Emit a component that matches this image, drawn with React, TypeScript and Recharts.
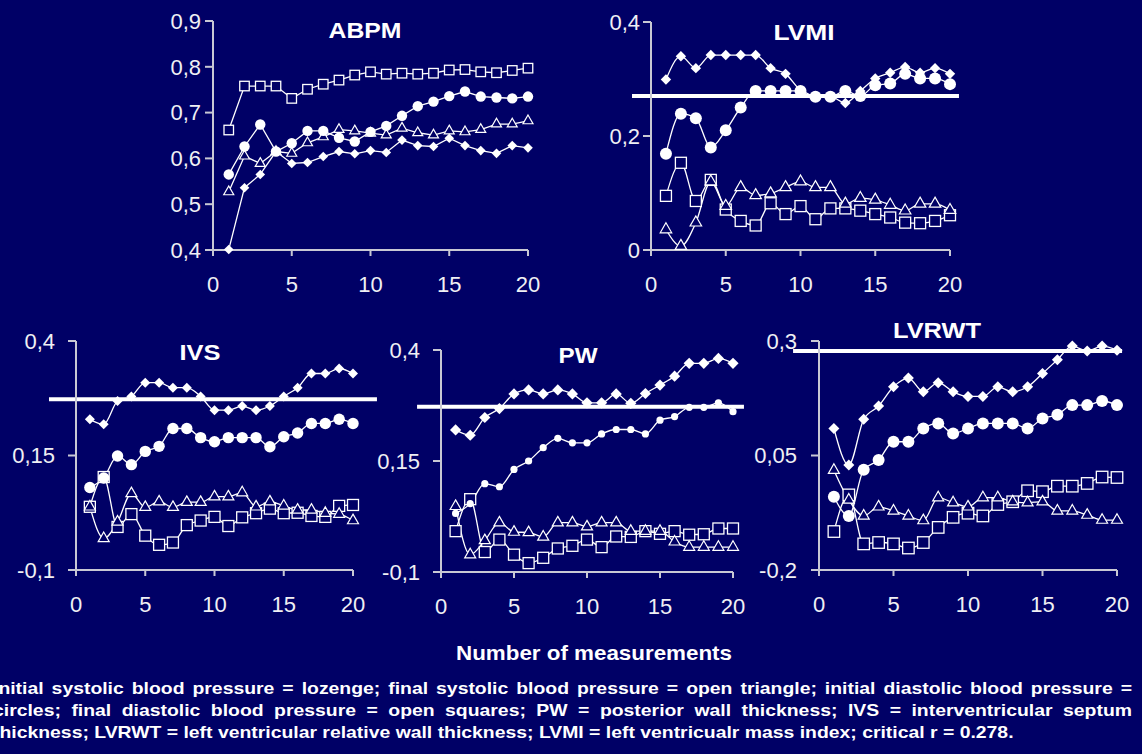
import React from "react";
import { LineChart, Line, XAxis, YAxis, ReferenceLine } from "recharts";

const BG = "#000066";
const FONT = "'Liberation Sans', Arial, sans-serif";

const MEASUREMENTS = [1, 2, 3, 4, 5, 6, 7, 8, 9, 10, 11, 12, 13, 14, 15, 16, 17, 18, 19, 20];
const X_TICKS = [0, 5, 10, 15, 20];

// ABPM
const ABPM_LOZENGE = [0.401, 0.536, 0.565, 0.615, 0.589, 0.591, 0.604, 0.615, 0.61, 0.617, 0.613, 0.64, 0.628, 0.626, 0.644, 0.628, 0.617, 0.611, 0.628, 0.623];
const ABPM_TRIANGLE = [0.527, 0.605, 0.589, 0.615, 0.611, 0.634, 0.647, 0.663, 0.66, 0.655, 0.651, 0.666, 0.656, 0.651, 0.66, 0.658, 0.663, 0.675, 0.675, 0.682];
const ABPM_CIRCLE = [0.565, 0.626, 0.674, 0.615, 0.633, 0.66, 0.66, 0.645, 0.637, 0.658, 0.671, 0.693, 0.714, 0.724, 0.736, 0.746, 0.735, 0.733, 0.731, 0.735];
const ABPM_SQUARE = [0.662, 0.758, 0.758, 0.758, 0.731, 0.751, 0.762, 0.771, 0.782, 0.789, 0.784, 0.786, 0.784, 0.786, 0.793, 0.794, 0.789, 0.787, 0.792, 0.797];

// LVMI
const LVMI_LOZENGE = [0.299, 0.34, 0.319, 0.342, 0.342, 0.342, 0.342, 0.319, 0.309, 0.28, 0.269, 0.269, 0.258, 0.279, 0.301, 0.311, 0.321, 0.311, 0.319, 0.309];
const LVMI_TRIANGLE = [0.036, 0.007, 0.048, 0.12, 0.077, 0.11, 0.096, 0.099, 0.11, 0.12, 0.11, 0.11, 0.081, 0.091, 0.088, 0.079, 0.069, 0.081, 0.081, 0.07];
const LVMI_CIRCLE = [0.169, 0.239, 0.231, 0.18, 0.21, 0.25, 0.279, 0.279, 0.279, 0.279, 0.269, 0.269, 0.279, 0.27, 0.289, 0.292, 0.309, 0.301, 0.301, 0.291];
const LVMI_SQUARE = [0.095, 0.153, 0.086, 0.123, 0.071, 0.051, 0.043, 0.082, 0.063, 0.077, 0.054, 0.073, 0.073, 0.069, 0.063, 0.057, 0.048, 0.047, 0.051, 0.061];

// IVS
const IVS_LOZENGE = [0.229, 0.218, 0.269, 0.279, 0.309, 0.309, 0.298, 0.298, 0.279, 0.249, 0.249, 0.258, 0.249, 0.258, 0.279, 0.298, 0.329, 0.329, 0.34, 0.329];
const IVS_TRIANGLE = [0.038, -0.031, 0.005, 0.067, 0.037, 0.049, 0.037, 0.048, 0.048, 0.06, 0.06, 0.069, 0.038, 0.049, 0.04, 0.031, 0.031, 0.024, 0.022, 0.008];
const IVS_CIRCLE = [0.08, 0.101, 0.149, 0.13, 0.159, 0.17, 0.209, 0.209, 0.189, 0.18, 0.189, 0.189, 0.189, 0.169, 0.191, 0.199, 0.22, 0.22, 0.229, 0.22];
const IVS_SQUARE = [0.038, 0.103, -0.006, 0.022, -0.025, -0.045, -0.04, -0.002, 0.008, 0.016, -0.004, 0.015, 0.024, 0.034, 0.024, 0.025, 0.018, 0.016, 0.04, 0.042];

// PW
const PW_LOZENGE = [0.22, 0.208, 0.248, 0.268, 0.301, 0.31, 0.301, 0.31, 0.301, 0.281, 0.281, 0.301, 0.28, 0.302, 0.321, 0.341, 0.37, 0.37, 0.381, 0.37];
const PW_TRIANGLE = [0.048, -0.061, -0.029, 0.011, -0.01, -0.011, -0.021, 0.011, 0.011, 0.002, 0.011, 0.011, -0.008, -0.008, -0.008, -0.032, -0.044, -0.044, -0.044, -0.044];
const PW_CIRCLE = [0.032, 0.054, 0.099, 0.092, 0.131, 0.15, 0.18, 0.201, 0.191, 0.191, 0.211, 0.221, 0.221, 0.211, 0.242, 0.25, 0.271, 0.271, 0.281, 0.261];
const PW_SQUARE = [-0.008, 0.064, -0.055, -0.027, -0.061, -0.08, -0.068, -0.047, -0.041, -0.027, -0.044, -0.02, -0.021, -0.008, -0.014, -0.008, -0.016, -0.015, -0.002, -0.002];

// LVRWT
const LVRWT_LOZENGE = [0.109, 0.029, 0.129, 0.158, 0.2, 0.219, 0.189, 0.209, 0.189, 0.179, 0.179, 0.2, 0.189, 0.2, 0.229, 0.259, 0.289, 0.278, 0.289, 0.28];
const LVRWT_TRIANGLE = [0.018, -0.047, -0.082, -0.062, -0.071, -0.082, -0.092, -0.042, -0.053, -0.062, -0.042, -0.042, -0.051, -0.053, -0.051, -0.071, -0.071, -0.08, -0.091, -0.091];
const LVRWT_CIRCLE = [-0.04, -0.082, 0.019, 0.04, 0.08, 0.08, 0.109, 0.12, 0.098, 0.109, 0.12, 0.12, 0.12, 0.109, 0.131, 0.139, 0.16, 0.16, 0.169, 0.16];
const LVRWT_SQUARE = [-0.116, -0.036, -0.143, -0.14, -0.143, -0.152, -0.14, -0.107, -0.085, -0.076, -0.082, -0.057, -0.051, -0.027, -0.029, -0.017, -0.017, -0.011, 0.003, 0.002];

const CAPTION_LINES = [
  "Initial systolic blood pressure = lozenge; final systolic blood pressure = open triangle; initial diastolic blood pressure =",
  "circles; final diastolic blood pressure = open squares; PW = posterior wall thickness; IVS = interventricular septum",
  "thickness; LVRWT = left ventricular relative wall thickness; LVMI = left ventricualr mass index; critical r = 0.278.",
];

type Sizes = { square: number; triangle: number; circle: number; diamond: number };

const squareDot = (s: number) => (p: any) => (
  <rect key={p.index} x={p.cx - s / 2} y={p.cy - s / 2} width={s} height={s} fill={BG} stroke="#fff" strokeWidth={1.3} />
);
const triangleDot = (a: number) => (p: any) => {
  const h = a * 0.87;
  const pts = `${p.cx},${p.cy - (2 * h) / 3} ${p.cx + a / 2},${p.cy + h / 3} ${p.cx - a / 2},${p.cy + h / 3}`;
  return <polygon key={p.index} points={pts} fill={BG} stroke="#fff" strokeWidth={1.2} />;
};
const circleDot = (r: number) => (p: any) => <circle key={p.index} cx={p.cx} cy={p.cy} r={r} fill="#fff" />;
const diamondDot = (s: number) => (p: any) => {
  const pts = `${p.cx},${p.cy - s} ${p.cx + s},${p.cy} ${p.cx},${p.cy + s} ${p.cx - s},${p.cy}`;
  return <polygon key={p.index} points={pts} fill="#fff" />;
};

const fmt = (v: number) => String(v).replace(".", ",");

type PanelProps = {
  title: string;
  lozenge: number[];
  triangle: number[];
  circle: number[];
  square: number[];
  yDomain: [number, number];
  yTicks: number[];
  axisX: number;
  rightX: number;
  topY: number;
  bottomY: number;
  labelGap: number;
  titleX: number;
  titleY: number;
  titleW: number;
  critical?: number;
  critFrom?: number;
  critTo?: number;
  curve: "linear" | "monotone";
  sizes: Sizes;
};

const Panel = (p: PanelProps) => {
  const data = MEASUREMENTS.map((n, i) => ({
    n,
    lozenge: p.lozenge[i],
    triangle: p.triangle[i],
    circle: p.circle[i],
    square: p.square[i],
  }));
  const mL = 10, yW = 60, mT = 20, mR = 35, xH = 50, mB = 5;
  const width = p.rightX - p.axisX + mL + yW + mR;
  const height = p.bottomY - p.topY + mT + xH + mB;
  const axisColor = "#c8c8d4";
  const tickStyle = { fill: "#f0f0f4", fontSize: 22, fontFamily: FONT };
  return (
    <div style={{ position: "absolute", left: p.axisX - mL - yW, top: p.topY - mT }}>
      <LineChart width={width} height={height} data={data} margin={{ top: mT, right: mR, left: mL, bottom: mB }}>
        <XAxis
          dataKey="n"
          type="number"
          domain={[0, 20]}
          ticks={X_TICKS}
          height={xH}
          tickSize={6}
          tickMargin={20}
          stroke={axisColor}
          strokeWidth={2}
          tick={tickStyle}
          interval={0}
        />
        <YAxis
          type="number"
          domain={p.yDomain}
          ticks={p.yTicks}
          width={yW}
          tickSize={8}
          tickMargin={p.labelGap}
          stroke={axisColor}
          strokeWidth={2}
          tick={tickStyle}
          tickFormatter={fmt}
          interval={0}
        />
        {p.critical !== undefined && (
          <ReferenceLine
            segment={[
              { x: p.critFrom, y: p.critical },
              { x: p.critTo, y: p.critical },
            ]}
            ifOverflow="visible"
            stroke="#fff"
            strokeWidth={4}
          />
        )}
        <Line type={p.curve} dataKey="square" stroke="#fff" strokeWidth={1.3} dot={squareDot(p.sizes.square)} isAnimationActive={false} />
        <Line type={p.curve} dataKey="triangle" stroke="#fff" strokeWidth={1.3} dot={triangleDot(p.sizes.triangle)} isAnimationActive={false} />
        <Line type={p.curve} dataKey="circle" stroke="#fff" strokeWidth={1.3} dot={circleDot(p.sizes.circle)} isAnimationActive={false} />
        <Line type={p.curve} dataKey="lozenge" stroke="#fff" strokeWidth={1.3} dot={diamondDot(p.sizes.diamond)} isAnimationActive={false} />
      </LineChart>
    </div>
  );
};

const PANELS: PanelProps[] = [
  {
    title: "ABPM", lozenge: ABPM_LOZENGE, triangle: ABPM_TRIANGLE, circle: ABPM_CIRCLE, square: ABPM_SQUARE,
    yDomain: [0.4, 0.9], yTicks: [0.4, 0.5, 0.6, 0.7, 0.8, 0.9],
    axisX: 213, rightX: 528, topY: 21, bottomY: 250, labelGap: 4, titleX: 365, titleY: 38, titleW: 73,
    curve: "linear", sizes: { square: 9.5, triangle: 10, circle: 5.2, diamond: 4.8 },
  },
  {
    title: "LVMI", lozenge: LVMI_LOZENGE, triangle: LVMI_TRIANGLE, circle: LVMI_CIRCLE, square: LVMI_SQUARE,
    yDomain: [0, 0.4], yTicks: [0, 0.2, 0.4],
    axisX: 651, rightX: 950, topY: 22, bottomY: 250, labelGap: 3, titleX: 804, titleY: 40, titleW: 61,
    critical: 0.27, critFrom: -1.27, critTo: 20.6,
    curve: "monotone", sizes: { square: 11, triangle: 11.5, circle: 6, diamond: 5.2 },
  },
  {
    title: "IVS", lozenge: IVS_LOZENGE, triangle: IVS_TRIANGLE, circle: IVS_CIRCLE, square: IVS_SQUARE,
    yDomain: [-0.1, 0.4], yTicks: [-0.1, 0.15, 0.4],
    axisX: 76, rightX: 353, topY: 341, bottomY: 570, labelGap: 13, titleX: 200, titleY: 360, titleW: 41,
    critical: 0.273, critFrom: -1.95, critTo: 21.73,
    curve: "monotone", sizes: { square: 11, triangle: 11, circle: 5.7, diamond: 5 },
  },
  {
    title: "PW", lozenge: PW_LOZENGE, triangle: PW_TRIANGLE, circle: PW_CIRCLE, square: PW_SQUARE,
    yDomain: [-0.1, 0.4], yTicks: [-0.1, 0.15, 0.4],
    axisX: 441, rightX: 733, topY: 350, bottomY: 572, labelGap: 13, titleX: 578, titleY: 363, titleW: 39,
    critical: 0.272, critFrom: -1.64, critTo: 20.75,
    curve: "monotone", sizes: { square: 11, triangle: 11, circle: 3.6, diamond: 5.6 },
  },
  {
    title: "LVRWT", lozenge: LVRWT_LOZENGE, triangle: LVRWT_TRIANGLE, circle: LVRWT_CIRCLE, square: LVRWT_SQUARE,
    yDomain: [-0.2, 0.3], yTicks: [-0.2, 0.05, 0.3],
    axisX: 819, rightX: 1117, topY: 341, bottomY: 570, labelGap: 14, titleX: 937, titleY: 338, titleW: 88,
    critical: 0.278, critFrom: -1.74, critTo: 20.34,
    curve: "monotone", sizes: { square: 11.5, triangle: 11, circle: 6, diamond: 5.5 },
  },
];

const CAPTION_SCALE = 1.14;

export default function App() {
  return (
    <div
      style={{
        position: "absolute",
        left: 0,
        top: 0,
        width: 1142,
        height: 754,
        background: BG,
        overflow: "hidden",
        fontFamily: FONT,
      }}
    >
      {PANELS.map((p) => (
        <Panel key={p.title} {...p} />
      ))}
      <svg width={1142} height={754} style={{ position: "absolute", left: 0, top: 0, pointerEvents: "none" }}>
        {PANELS.map((p) => (
          <text
            key={p.title}
            x={p.titleX - p.titleW / 2}
            y={p.titleY}
            textLength={p.titleW}
            lengthAdjust="spacingAndGlyphs"
            fill="#fff"
            fontSize={22}
            fontWeight="bold"
            fontFamily={FONT}
          >
            {p.title}
          </text>
        ))}
        <text
          x={456}
          y={660}
          textLength={276}
          lengthAdjust="spacingAndGlyphs"
          fill="#fff"
          fontSize={21}
          fontWeight="bold"
          fontFamily={FONT}
        >
          Number of measurements
        </text>
      </svg>
      <div
        style={{
          position: "absolute",
          left: -7,
          top: 678,
          width: 1139 / CAPTION_SCALE,
          color: "#fff",
          fontWeight: "bold",
          fontSize: 17,
          lineHeight: "22px",
          transform: `scaleX(${CAPTION_SCALE})`,
          transformOrigin: "0 0",
        }}
      >
        {CAPTION_LINES.map((line, i) => (
          <div
            key={i}
            style={{
              textAlign: i < 2 ? "justify" : "left",
              textAlignLast: i < 2 ? "justify" : "left",
              whiteSpace: "nowrap",
            }}
          >
            {line}
          </div>
        ))}
      </div>
    </div>
  );
}
